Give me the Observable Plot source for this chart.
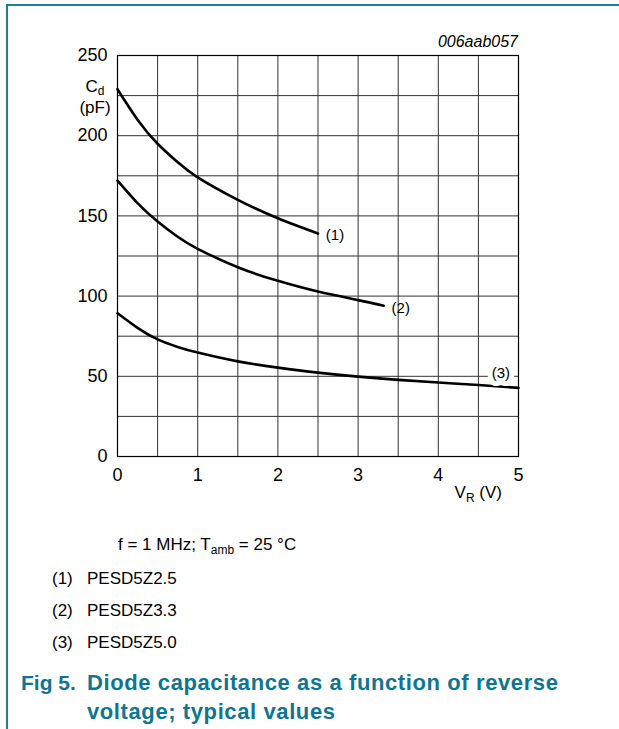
<!DOCTYPE html>
<html>
<head>
<meta charset="utf-8">
<script src="https://cdn.jsdelivr.net/npm/d3@7"></script>
<script src="https://cdn.jsdelivr.net/npm/@observablehq/plot@0.6"></script>
<style>
  html, body { margin: 0; padding: 0; background: #fff; }
  #page { position: relative; width: 619px; height: 729px; overflow: hidden; font-family: "Liberation Sans", Arial, sans-serif; color: #000; }
  .bt { position: absolute; left: 6px; top: 4px; width: 613px; height: 2px; background: #1b7f96; }
  .bl { position: absolute; left: 6px; top: 4px; width: 2px; height: 725px; background: #1b7f96; }
  #chart { position: absolute; left: 0; top: 0; }
  .cap { position: absolute; font-size: 17px; line-height: 20px; white-space: nowrap; }
  .fig { position: absolute; font-size: 22px; line-height: 29px; font-weight: bold; color: #0e7592; white-space: nowrap; }
</style>
</head>
<body>
<div id="page">
  <div class="bt"></div>
  <div class="bl"></div>
  <div id="chart"></div>
  <div class="cap" style="left:118px; top:535px;">f = 1 MHz; T<sub style="font-size:12px; line-height:0;">amb</sub> = 25 °C</div>
  <div class="cap" style="left:52px; top:569px;">(1)</div>
  <div class="cap" style="left:87px; top:569px;">PESD5Z2.5</div>
  <div class="cap" style="left:52px; top:601px;">(2)</div>
  <div class="cap" style="left:87px; top:601px;">PESD5Z3.3</div>
  <div class="cap" style="left:52px; top:633px;">(3)</div>
  <div class="cap" style="left:87px; top:633px;">PESD5Z5.0</div>
  <div class="fig" style="left:21px; top:668px; font-size:21px;">Fig 5.</div>
  <div class="fig" style="left:87px; top:668px; letter-spacing:0.6px;">Diode capacitance as a function of reverse<br>voltage; typical values</div>
</div>
<script>
// Series (V_R in V, C_d in pF)
const s1V = [0, 0.25, 0.5, 0.75, 1, 1.5, 2, 2.5];
const s1C = [229, 210, 195, 183.5, 174, 160, 148.5, 139];
const s2V = [0, 0.25, 0.5, 0.75, 1, 1.5, 2, 2.5, 3, 3.32];
const s2C = [172, 158, 146.5, 137, 129.5, 118, 109.5, 102.8, 97.5, 94];
const s3V = [0, 0.25, 0.5, 0.75, 1, 1.5, 2, 2.5, 3, 3.5, 4, 4.5, 5];
const s3C = [89.3, 80.2, 73, 68.3, 64.8, 59.3, 55.4, 52.3, 49.8, 47.8, 46.1, 44.6, 42.8];

const xTicks = [0, 1, 2, 3, 4, 5];
const yTicks = [0, 50, 100, 150, 200, 250];
const xGrid = [0.5, 1, 1.5, 2, 2.5, 3, 3.5, 4, 4.5];
const yGrid = [25, 50, 75, 100, 125, 150, 175, 200, 225];

const labelText = ["(1)", "(2)", "(3)"];
const labelV = [2.5, 3.32, 4.78];
const labelC = [139, 94, 52];

const lines = [];
[[s1V, s1C, "1"], [s2V, s2C, "2"], [s3V, s3C, "3"]].forEach(([vs, cs, k]) => {
  vs.forEach((v, i) => lines.push({series: k, v, c: cs[i]}));
});
const labels = labelText.map((t, i) => ({t, v: labelV[i], c: labelC[i]}));

const FONT = "'Liberation Sans', Arial, sans-serif";

const plot = Plot.plot({
  width: 619,
  height: 520,
  marginLeft: 117,
  marginRight: 101,
  marginTop: 55,
  marginBottom: 64,
  style: {fontFamily: FONT, fontSize: "18px", color: "#000", background: "transparent"},
  x: {domain: [0, 5], ticks: xTicks, tickSize: 0, tickPadding: 12, label: null, tickFormat: d => String(d)},
  y: {domain: [0, 250], ticks: yTicks, tickSize: 0, tickPadding: 10, label: null, tickFormat: d => String(d)},
  marks: [
    Plot.ruleX(xGrid, {stroke: "#333", strokeWidth: 1}),
    Plot.ruleY(yGrid, {stroke: "#333", strokeWidth: 1}),
    Plot.frame({stroke: "#000", strokeWidth: 1.2}),
    Plot.line(lines, {x: "v", y: "c", z: "series", stroke: "#000", strokeWidth: 2.6, curve: "natural"}),
    Plot.text(labels.slice(0, 2), {x: "v", y: "c", text: "t", dx: 17, dy: 2, textAnchor: "middle", fontSize: 15, fill: "#000"}),
    Plot.text(labels.slice(2), {x: "v", y: "c", text: "t", textAnchor: "middle", fontSize: 15, fill: "#000", stroke: "white", strokeWidth: 10, paintOrder: "stroke"})
  ]
});
document.getElementById("chart").appendChild(plot);

// Axis titles and figure code (with subscripts)
const svg = d3.select(plot);
const xs = plot.scale("x"), ys = plot.scale("y");
const x0 = xs.apply(0), x5 = xs.apply(5), yTop = ys.apply(250), yBot = ys.apply(0);

const cd = svg.append("text").attr("x", x0 - 22).attr("y", yTop + 37).attr("text-anchor", "middle")
  .attr("font-size", 17).attr("font-family", FONT);
cd.append("tspan").text("C");
cd.append("tspan").attr("font-size", 12).attr("dy", 3).text("d");
svg.append("text").attr("x", x0 - 22).attr("y", yTop + 58).attr("text-anchor", "middle")
  .attr("font-size", 17).attr("font-family", FONT).text("(pF)");

const vr = svg.append("text").attr("x", x5 - 16).attr("y", yBot + 42).attr("text-anchor", "end")
  .attr("font-size", 17).attr("font-family", FONT);
vr.append("tspan").text("V");
vr.append("tspan").attr("font-size", 12).attr("dy", 4).text("R");
vr.append("tspan").attr("dy", -4).text(" (V)");

svg.append("text").attr("x", x5).attr("y", yTop - 8).attr("text-anchor", "end")
  .attr("font-size", 16).attr("font-style", "italic").attr("font-family", FONT).text("006aab057");
</script>
</body>
</html>
